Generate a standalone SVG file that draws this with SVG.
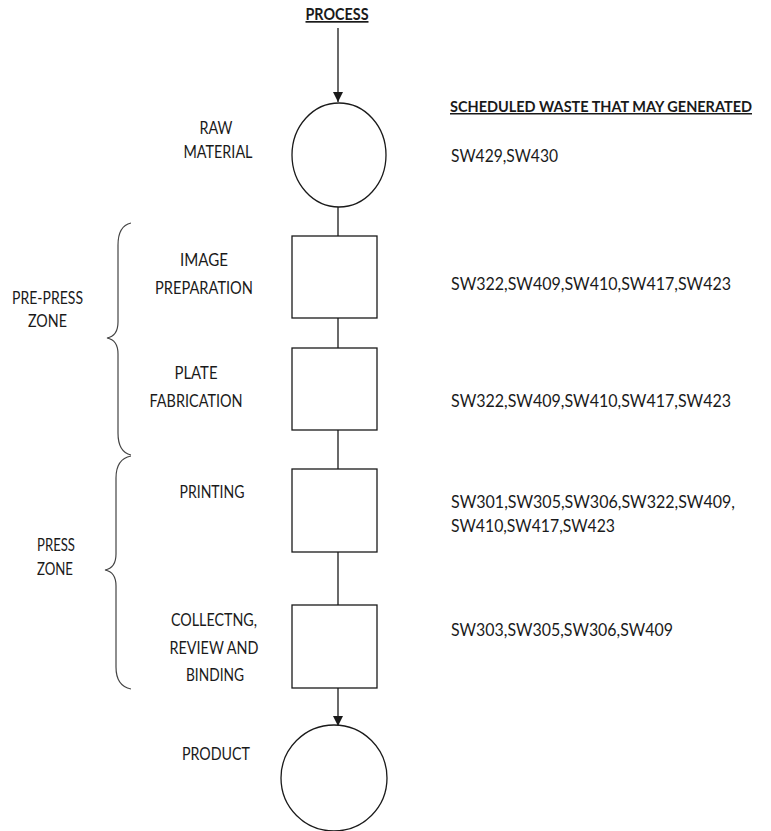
<svg xmlns="http://www.w3.org/2000/svg" width="771" height="831" viewBox="0 0 771 831">
<style>
text{font-family:Lato,"Liberation Sans",sans-serif;font-size:17px;fill:#1a1a1a}
.b{font-weight:bold}
.u{text-decoration:underline}
.m{text-anchor:middle}
.h{font-size:15px}
.s{fill:#fff;stroke:#1a1a1a;stroke-width:1.3}
.c{fill:none;stroke:#1a1a1a;stroke-width:1.3}
.br{fill:none;stroke:#444;stroke-width:1.2}
</style>
<defs>
<marker id="ah" viewBox="0 0 10 10" refX="10" refY="5" markerWidth="10" markerHeight="10" markerUnits="userSpaceOnUse" orient="auto">
<path d="M0,0 L10,5 L0,10 z" fill="#1a1a1a"/>
</marker>
</defs>
<rect width="771" height="831" fill="#fff"/>
<g id="title"><text class="b u m" x="337" y="20" textLength="63" lengthAdjust="spacingAndGlyphs">PROCESS</text></g>
<g id="connectors">
<line class="c" x1="338" y1="28" x2="338" y2="102" marker-end="url(#ah)"/>
<line class="c" x1="338" y1="207" x2="338" y2="236"/>
<line class="c" x1="338" y1="318" x2="338" y2="348"/>
<line class="c" x1="338" y1="430" x2="338" y2="469"/>
<line class="c" x1="338" y1="552" x2="338" y2="605"/>
<line class="c" x1="338" y1="688" x2="338" y2="726" marker-end="url(#ah)"/>
</g>
<g id="raw-material">
<ellipse class="s" cx="339" cy="155" rx="47" ry="52"/>
<text class="m" x="216" y="134" textLength="33" lengthAdjust="spacingAndGlyphs">RAW</text>
<text class="m" x="218" y="158" textLength="69" lengthAdjust="spacingAndGlyphs">MATERIAL</text>
</g>
<g id="image-preparation">
<rect class="s" x="292" y="236" width="85" height="82"/>
<text class="m" x="204" y="266" textLength="48" lengthAdjust="spacingAndGlyphs">IMAGE</text>
<text class="m" x="204" y="294" textLength="98" lengthAdjust="spacingAndGlyphs">PREPARATION</text>
</g>
<g id="plate-fabrication">
<rect class="s" x="292" y="348" width="85" height="82"/>
<text class="m" x="196" y="379" textLength="43" lengthAdjust="spacingAndGlyphs">PLATE</text>
<text class="m" x="196" y="407" textLength="93" lengthAdjust="spacingAndGlyphs">FABRICATION</text>
</g>
<g id="printing">
<rect class="s" x="292" y="469" width="85" height="83"/>
<text class="m" x="212" y="498" textLength="65" lengthAdjust="spacingAndGlyphs">PRINTING</text>
</g>
<g id="collecting">
<rect class="s" x="292" y="605" width="85" height="83"/>
<text class="m" x="214" y="626" textLength="86" lengthAdjust="spacingAndGlyphs">COLLECTNG,</text>
<text class="m" x="214" y="654" textLength="89" lengthAdjust="spacingAndGlyphs">REVIEW AND</text>
<text class="m" x="215" y="681" textLength="58" lengthAdjust="spacingAndGlyphs">BINDING</text>
</g>
<g id="product">
<ellipse class="s" cx="334" cy="778" rx="53" ry="53"/>
<text class="m" x="216" y="760" textLength="68" lengthAdjust="spacingAndGlyphs">PRODUCT</text>
</g>
<g id="pre-press-zone">
<path class="br" d="M131,223 Q118,226 118,245 L118,322 Q118,336 107,338 Q118,340 118,354 L118,433 Q118,452 131,455"/>
<text class="m" x="47.5" y="304" textLength="71" lengthAdjust="spacingAndGlyphs">PRE-PRESS</text>
<text class="m" x="47.5" y="327" textLength="39" lengthAdjust="spacingAndGlyphs">ZONE</text>
</g>
<g id="press-zone">
<path class="br" d="M131,456 Q116,459 116,478 L116,554 Q116,568 105,570 Q116,572 116,586 L116,667 Q116,686 131,689"/>
<text class="m" x="56" y="551" textLength="38" lengthAdjust="spacingAndGlyphs">PRESS</text>
<text class="m" x="55" y="575" textLength="36" lengthAdjust="spacingAndGlyphs">ZONE</text>
</g>
<g id="waste">
<text class="b u h" x="450" y="112" textLength="302" lengthAdjust="spacingAndGlyphs">SCHEDULED WASTE THAT MAY GENERATED</text>
<text x="451" y="162" textLength="107" lengthAdjust="spacingAndGlyphs">SW429,SW430</text>
<text x="451" y="290" textLength="280" lengthAdjust="spacingAndGlyphs">SW322,SW409,SW410,SW417,SW423</text>
<text x="451" y="407" textLength="280" lengthAdjust="spacingAndGlyphs">SW322,SW409,SW410,SW417,SW423</text>
<text x="451" y="508" textLength="284" lengthAdjust="spacingAndGlyphs">SW301,SW305,SW306,SW322,SW409,</text>
<text x="451" y="532" textLength="164" lengthAdjust="spacingAndGlyphs">SW410,SW417,SW423</text>
<text x="451" y="636" textLength="222" lengthAdjust="spacingAndGlyphs">SW303,SW305,SW306,SW409</text>
</g>
</svg>
